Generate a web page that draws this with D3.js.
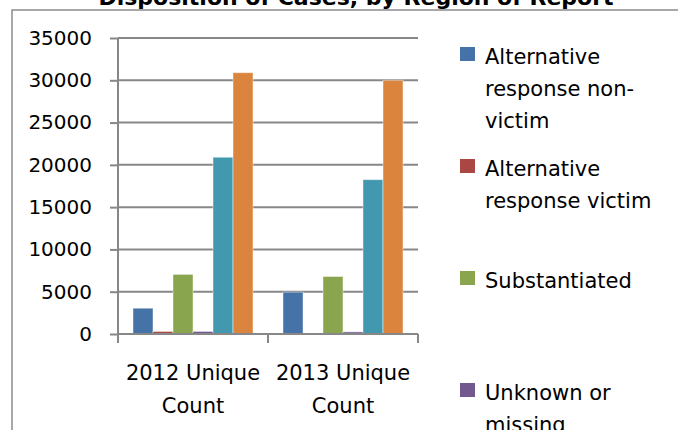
<!DOCTYPE html>
<html>
<head>
<meta charset="utf-8">
<script src="https://cdn.jsdelivr.net/npm/d3@7"></script>
<style>
  html, body { margin: 0; padding: 0; background: #fff; overflow: hidden; }
  svg { display: block; }
  text { font-family: "DejaVu Sans", sans-serif; fill: #000; }
</style>
</head>
<body>
<svg id="chart" width="678" height="430"></svg>
<script>
// ---- data ----
const categories = ["2012 Unique Count", "2013 Unique Count"];
const categoryLines = [["2012 Unique", "Count"], ["2013 Unique", "Count"]];
const seriesNames = [
  "Alternative response non-victim",
  "Alternative response victim",
  "Substantiated",
  "Unknown or missing",
  "Unsubstantiated",
  "Total"
];
const legendLines = [
  ["Alternative", "response non-", "victim"],
  ["Alternative", "response victim"],
  ["Substantiated"],
  ["Unknown or", "missing"],
  ["Unsubstantiated"],
  ["Total"]
];
const altNonVictim    = [3050, 4950];
const altVictim       = [300, 0];
const substantiated   = [7050, 6800];
const unknownMissing  = [300, 250];
const unsubstantiated = [20900, 18250];
const total           = [30900, 30000];
const yTicks = [0, 5000, 10000, 15000, 20000, 25000, 30000, 35000];
const titleText = "Disposition of Cases, by Region of Report";

// ---- styles ----
const colors = ["#4572A7", "#AA4643", "#89A54E", "#71588F", "#4198AF", "#DB843D"];
const gridColor = "#878787";

const seriesValues = [altNonVictim, altVictim, substantiated, unknownMissing, unsubstantiated, total];
const rows = [];
seriesNames.forEach((s, si) => {
  categories.forEach((c, ci) => rows.push({ series: s, cat: c, value: seriesValues[si][ci], color: colors[si] }));
});

const svg = d3.select("#chart");

// outer chart border
svg.append("rect")
  .attr("x", 12).attr("y", 10)
  .attr("width", 700).attr("height", 460)
  .attr("fill", "none").attr("stroke", "#8c8c8c").attr("stroke-width", 1.5);

// title (mostly cut off at the top)
svg.append("text")
  .attr("x", 356).attr("y", 5)
  .attr("text-anchor", "middle")
  .attr("font-size", 22).attr("font-weight", "bold")
  .text(titleText);

const plot = { left: 118, right: 418, top: 38, bottom: 334 };

const y = d3.scaleLinear().domain([0, 35000]).range([plot.bottom, plot.top]);
const x0 = d3.scaleBand().domain(categories).range([plot.left, plot.right]).padding(0);
const x1 = d3.scaleBand().domain(seriesNames).range([0, x0.bandwidth()]).paddingInner(0).paddingOuter(0.75);

// gridlines
svg.append("g")
  .selectAll("line")
  .data(yTicks)
  .join("line")
  .attr("x1", plot.left).attr("x2", plot.right)
  .attr("y1", d => y(d)).attr("y2", d => y(d))
  .attr("stroke", gridColor).attr("stroke-width", 2);

// bars
svg.append("g")
  .selectAll("rect")
  .data(rows)
  .join("rect")
  .attr("x", d => x0(d.cat) + x1(d.series))
  .attr("width", x1.bandwidth())
  .attr("y", d => y(d.value))
  .attr("height", d => y(0) - y(d.value))
  .attr("fill", d => d.color)
  .attr("stroke", "rgba(255,255,255,0.45)")
  .attr("stroke-width", 1);

// y axis
const yAxis = svg.append("g")
  .attr("transform", `translate(${plot.left},0)`)
  .call(d3.axisLeft(y).tickValues(yTicks).tickFormat(d3.format("d")).tickSize(8).tickPadding(18));
yAxis.select(".domain").attr("stroke", gridColor).attr("stroke-width", 2).attr("d", `M-0,${plot.top}V${plot.bottom + 9}`);
yAxis.selectAll(".tick line").attr("stroke", gridColor).attr("stroke-width", 2);
yAxis.selectAll(".tick text").attr("font-size", 20).attr("font-family", "DejaVu Sans, sans-serif").attr("fill", "#000");

// x axis line + boundary ticks
const xAxis = svg.append("g");
xAxis.append("line")
  .attr("x1", plot.left).attr("x2", plot.right)
  .attr("y1", y(0)).attr("y2", y(0))
  .attr("stroke", gridColor).attr("stroke-width", 2);
const boundaries = [x0(categories[0])].concat(categories.map(c => x0(c) + x0.bandwidth()));
xAxis.selectAll("line.tk")
  .data(boundaries)
  .join("line")
  .attr("class", "tk")
  .attr("x1", d => d).attr("x2", d => d)
  .attr("y1", y(0)).attr("y2", y(0) + 9)
  .attr("stroke", gridColor).attr("stroke-width", 2);

// category labels
const catLabels = xAxis.selectAll("text.cat")
  .data(categories)
  .join("text")
  .attr("class", "cat")
  .attr("text-anchor", "middle")
  .attr("font-size", 21)
  .attr("x", d => x0(d) + x0.bandwidth() / 2)
  .attr("y", 380);
catLabels.each(function(d, i) {
  d3.select(this).selectAll("tspan")
    .data(categoryLines[i])
    .join("tspan")
    .attr("x", x0(d) + x0.bandwidth() / 2)
    .attr("dy", (t, j) => j === 0 ? 0 : 33)
    .text(t => t);
});

// legend
const legend = svg.append("g");
const item = legend.selectAll("g")
  .data(seriesNames)
  .join("g")
  .attr("transform", (d, i) => `translate(460,${47 + i * 112})`);
item.append("rect")
  .attr("width", 15).attr("height", 14)
  .attr("fill", (d, i) => colors[i]);
item.append("text")
  .attr("font-size", 21)
  .attr("y", 17)
  .each(function(d, i) {
    d3.select(this).selectAll("tspan")
      .data(legendLines[i])
      .join("tspan")
      .attr("x", 25)
      .attr("dy", (t, j) => j === 0 ? 0 : 32)
      .text(t => t);
  });
</script>
</body>
</html>
